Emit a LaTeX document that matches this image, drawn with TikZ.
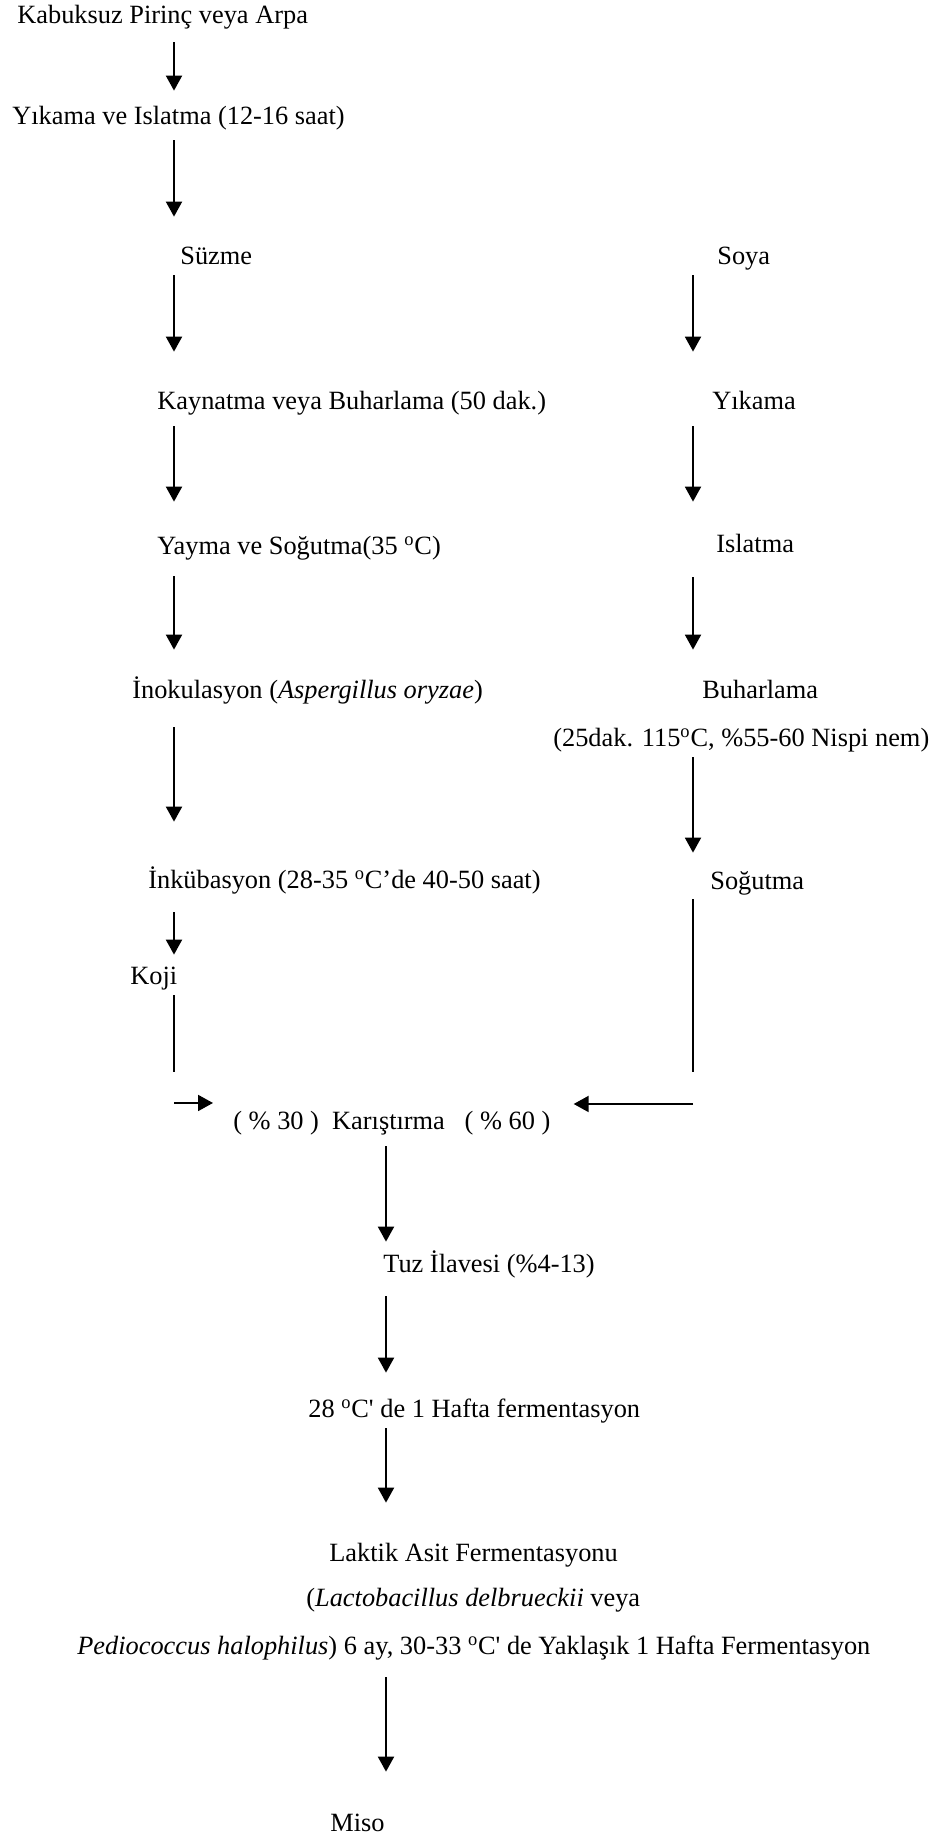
\documentclass[tikz,border=0pt]{standalone}
\usepackage{fontspec}
\setmainfont{Liberation Serif}
\usepackage{tikz}
\usetikzlibrary{arrows.meta,calc}
\tikzset{
  stagetext/.style={anchor=west, inner sep=0pt, text height=0.38cm, text depth=0.12cm, font=\fontsize{15}{18}\selectfont},
  arrow/.style={-{Triangle[length=3mm,width=3.2mm]}, line width=1.1pt, draw=black},
  plainline/.style={line width=1.1pt, draw=black}
}

\begin{document}
\begin{tikzpicture}
  \useasboundingbox (0,0) rectangle (18.76,36.72);
  \coordinate (lcol) at (3.48,0);
  \coordinate (rcol) at (13.86,0);
  \coordinate (ccol) at (7.72,0);

  % rice / barley side
  \node[stagetext] (raw) at (0.34,36.38) {Kabuksuz Pirinç veya Arpa};
  \node[stagetext] (wash) at (0.24,34.36) {Yıkama ve Islatma (12-16 saat)};
  \node[stagetext] (drain) at (3.60,31.56) {Süzme};
  \node[stagetext] (boil) at (3.14,28.66) {Kaynatma veya Buharlama (50 dak.)};
  \node[stagetext] (spread) at (3.14,25.76) {Yayma ve Soğutma(35 \textsuperscript{o}C)};
  \node[stagetext] (inoc) at (2.64,22.88) {İnokulasyon (\textit{Aspergillus oryzae})};
  \node[stagetext] (incub) at (2.96,19.08) {İnkübasyon (28-35 \textsuperscript{o}C’de 40-50 saat)};
  \node[stagetext] (koji) at (2.60,17.16) {Koji};

  % soy side
  \node[stagetext] (soy) at (14.34,31.56) {Soya};
  \node[stagetext] (soywash) at (14.24,28.66) {Yıkama};
  \node[stagetext] (soak) at (14.32,25.80) {Islatma};
  \node[stagetext] (steam) at (14.04,22.88) {Buharlama};
  \node[stagetext] (steamcond) at (11.06,21.92) {(25dak. 115\textsuperscript{o}C, \%55-60 Nispi nem)};
  \node[stagetext] (cool) at (14.20,19.06) {Soğutma};

  % common line
  \node[stagetext] (mix) at (4.66,14.26) {(~\%~30~)~~Karıştırma~~~(~\%~60~)};
  \node[stagetext] (salt) at (7.66,11.40) {Tuz İlavesi (\%4-13)};
  \node[stagetext] (ferm) at (6.16,8.50) {28 \textsuperscript{o}C\textquotesingle{} de 1 Hafta fermentasyon};
  \node[stagetext] (lactic) at (6.58,5.62) {Laktik Asit Fermentasyonu};
  \node[stagetext] (lacticb) at (6.12,4.72) {(\textit{Lactobacillus delbrueckii} veya};
  \node[stagetext] (lacticc) at (1.54,3.76) {\textit{Pediococcus halophilus}) 6 ay, 30-33 \textsuperscript{o}C\textquotesingle{} de Yaklaşık 1 Hafta Fermentasyon};
  \node[stagetext] (miso) at (6.60,0.22) {Miso};

  \coordinate (kojiend) at (3.48,15.28);
  \coordinate (coolend) at (13.86,15.28);
  \coordinate (kojiturn) at (3.48,14.66);
  \coordinate (coolturn) at (13.86,14.64);

  \draw[arrow, shorten <=0.25cm, shorten >=0.29cm] (raw.south -| lcol) -- (wash.north -| lcol);
  \draw[arrow, shorten <=0.19cm, shorten >=0.57cm] (wash.south -| lcol) -- (drain.north -| lcol);
  \draw[arrow, shorten <=0.09cm, shorten >=0.77cm] (drain.south -| lcol) -- (boil.north -| lcol);
  \draw[arrow, shorten <=0.21cm, shorten >=0.67cm] (boil.south -| lcol) -- (spread.north -| lcol);
  \draw[arrow, shorten <=0.31cm, shorten >=0.59cm] (spread.south -| lcol) -- (inoc.north -| lcol);
  \draw[arrow, shorten <=0.45cm, shorten >=0.95cm] (inoc.south -| lcol) -- (incub.north -| lcol);
  \draw[arrow, shorten <=0.35cm, shorten >=0.21cm] (incub.south -| lcol) -- (koji.north -| lcol);
  \draw[plainline, shorten <=0.09cm] (koji.south -| lcol) -- (kojiend);

  \draw[arrow, shorten <=0.09cm, shorten >=0.77cm] (soy.south -| rcol) -- (soywash.north -| rcol);
  \draw[arrow, shorten <=0.21cm, shorten >=0.63cm] (soywash.south -| rcol) -- (soak.north -| rcol);
  \draw[arrow, shorten <=0.37cm, shorten >=0.59cm] (soak.south -| rcol) -- (steam.north -| rcol);
  \draw[arrow, shorten <=0.09cm, shorten >=0.35cm] (steamcond.south -| rcol) -- (cool.north -| rcol);
  \draw[plainline, shorten <=0.07cm] (cool.south -| rcol) -- (coolend);

  \draw[arrow, shorten >=0.40cm] (kojiturn) -- (kojiturn -| mix.west);
  \draw[arrow, shorten >=0.46cm] (coolturn) -- (coolturn -| mix.east);

  \draw[arrow, shorten <=0.21cm, shorten >=0.23cm] (mix.south -| ccol) -- (salt.north -| ccol);
  \draw[arrow, shorten <=0.35cm, shorten >=0.51cm] (salt.south -| ccol) -- (ferm.north -| ccol);
  \draw[arrow, shorten <=0.09cm, shorten >=0.79cm] (ferm.south -| ccol) -- (lactic.north -| ccol);
  \draw[arrow, shorten <=0.33cm, shorten >=0.81cm] (lacticc.south -| ccol) -- (miso.north -| ccol);
\end{tikzpicture}
\end{document}
